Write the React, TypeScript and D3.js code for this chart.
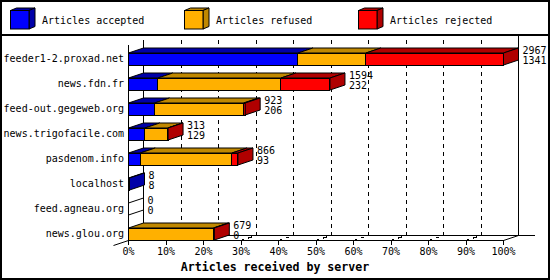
import React from "react";
import * as d3 from "d3";

const servers = [
  "feeder1-2.proxad.net",
  "news.fdn.fr",
  "feed-out.gegeweb.org",
  "news.trigofacile.com",
  "pasdenom.info",
  "localhost",
  "feed.agneau.org",
  "news.glou.org",
];
const offered = [2967, 1594, 923, 313, 866, 8, 0, 679];
const accepted = [1341, 232, 206, 129, 93, 8, 0, 0];
const refused = [537, 974, 705, 181, 725, 0, 0, 672];
const rejected = [1089, 388, 12, 3, 48, 0, 0, 7];
const seriesNames = ["Articles accepted", "Articles refused", "Articles rejected"];
const pctTicks = [0, 10, 20, 30, 40, 50, 60, 70, 80, 90, 100];
const axisTitle = "Articles received by server";

const FRONT = ["#0000ff", "#ffb000", "#ff0000"];
const DARK = ["#0000a8", "#c08800", "#b00000"];
const FONT = "'DejaVu Sans Mono', monospace";

const W = 550;
const H = 280;
const DX = 15;
const DY = 5;

export default function App() {
  const maxTotal = d3.max(offered) as number;
  const x = d3.scaleLinear().domain([0, 100]).range([128.5, 503.5]);
  const y = d3.scaleBand().domain(servers).range([46, 246]).padding(0);
  const pct = (v: number) => (v / maxTotal) * 100;
  const axisY = 240.5;
  const backY = axisY - DY;
  const backTop = 40;

  const rows = servers.map((s, i) => {
    const vals = [accepted[i], refused[i], rejected[i]];
    const cum = [0, ...(d3.cumsum(vals) as any)];
    const cy = (y(s) as number) + y.bandwidth() / 2;
    const top = cy - 6 + 0.5;
    const bottom = cy + 6 + 0.5;
    let last = -1;
    vals.forEach((v, k) => {
      if (v > 0) last = k;
    });
    const segs = vals.map((v, k) => ({
      k,
      v,
      x1: x(pct(cum[k])),
      x2: x(pct(cum[k + 1])),
    }));
    const xEnd = x(pct(offered[i]));
    return { s, i, segs, cy, top, bottom, last, xEnd };
  });

  return (
    <div style={{ position: "fixed", left: 0, top: 0 }}>
      <svg width={W} height={H} style={{ display: "block" }} fontFamily={FONT}>
        <rect x={0} y={0} width={W} height={H} fill="#fff" />
        {/* legend */}
        {seriesNames.map((n, k) => {
          const lx = 10.5 + k * 174;
          const ly = 10.5;
          const s = 18.5;
          return (
            <g key={n}>
              <polygon
                points={`${lx},${ly} ${lx + 6},${ly - 2.5} ${lx + s + 6},${ly - 2.5} ${lx + s},${ly}`}
                fill={DARK[k]}
                stroke="#000"
              />
              <polygon
                points={`${lx + s},${ly} ${lx + s + 6},${ly - 2.5} ${lx + s + 6},${ly + s - 2.5} ${lx + s},${ly + s}`}
                fill={DARK[k]}
                stroke="#000"
              />
              <rect x={lx} y={ly} width={s} height={s} fill={FRONT[k]} stroke="#000" />
              <text x={lx + 31.5} y={23.5} fontSize={10} fill="#000">
                {n}
              </text>
            </g>
          );
        })}
        <line x1={0} x2={W} y1={35} y2={35} stroke="#000" strokeWidth={2} />

        {/* back wall */}
        <g stroke="#000" strokeWidth={1} fill="none" shapeRendering="crispEdges">
          <line x1={x(0) + DX} x2={x(0) + DX} y1={backTop} y2={backY} />
          <line x1={x(100) + DX} x2={x(100) + DX} y1={36} y2={backY} />
          <line x1={x(0) + DX} x2={x(100) + DX + 16} y1={backY} y2={backY} />
        </g>
        {/* dashed grid */}
        <g stroke="#000" strokeWidth={1} fill="none" strokeDasharray="4,4">
          {pctTicks
            .filter((t) => t > 0 && t < 100)
            .map((t) => (
              <path
                key={t}
                d={`M${x(t) + DX},${backTop} L${x(t) + DX},${backY} L${x(t)},${axisY}`}
                shapeRendering="crispEdges"
              />
            ))}
        </g>
        {/* front axes */}
        <g stroke="#000" strokeWidth={1} fill="none">
          <line x1={x(0)} x2={x(0)} y1={45} y2={axisY} shapeRendering="crispEdges" />
          <line x1={x(0)} x2={x(100)} y1={axisY} y2={axisY} shapeRendering="crispEdges" />
          <line x1={x(0) - DX} y1={axisY + DY} x2={x(0)} y2={axisY} />
          <line x1={x(100)} y1={axisY} x2={x(100) + DX} y2={backY} />
          {pctTicks.map((t) => (
            <line key={t} x1={x(t)} x2={x(t)} y1={axisY} y2={axisY + 4} shapeRendering="crispEdges" />
          ))}
        </g>
        {pctTicks.map((t) => (
          <text key={t} x={x(t)} y={255} fontSize={10} textAnchor="middle" fill="#000">
            {t + "%"}
          </text>
        ))}
        <text x={275} y={271} fontSize={11.6} fontWeight="bold" textAnchor="middle" fill="#000">
          {axisTitle}
        </text>

        {/* bars */}
        {rows.map((r) => (
          <g key={r.s}>
            <text x={124} y={r.cy + 3.5} fontSize={10} textAnchor="end" fill="#000">
              {r.s}
            </text>
            {r.segs
              .filter((g) => g.v > 0)
              .map((g) => (
                <g key={g.k}>
                  <polygon
                    points={`${g.x1},${r.top} ${g.x1 + DX},${r.top - DY} ${g.x2 + DX},${r.top - DY} ${g.x2},${r.top}`}
                    fill={DARK[g.k]}
                    stroke="#000"
                    strokeLinejoin="miter"
                  />
                  <rect
                    x={g.x1}
                    y={r.top}
                    width={Math.max(0, g.x2 - g.x1)}
                    height={r.bottom - r.top}
                    fill={FRONT[g.k]}
                    stroke="#000"
                    shapeRendering="crispEdges"
                  />
                </g>
              ))}
            <polygon
              points={`${r.xEnd},${r.top} ${r.xEnd + DX},${r.top - DY} ${r.xEnd + DX},${r.bottom - DY} ${r.xEnd},${r.bottom}`}
              fill={r.last >= 0 ? DARK[r.last] : "#fff"}
              stroke="#000"
            />
            <text x={r.xEnd + DX + 4} y={r.cy - 4.8} fontSize={10} fill="#000">
              {offered[r.i]}
            </text>
            <text x={r.xEnd + DX + 4} y={r.cy + 5.2} fontSize={10} fill="#000">
              {accepted[r.i]}
            </text>
          </g>
        ))}

        <rect x={1} y={1} width={W - 2} height={H - 2} fill="none" stroke="#000" strokeWidth={2} />
      </svg>
    </div>
  );
}
